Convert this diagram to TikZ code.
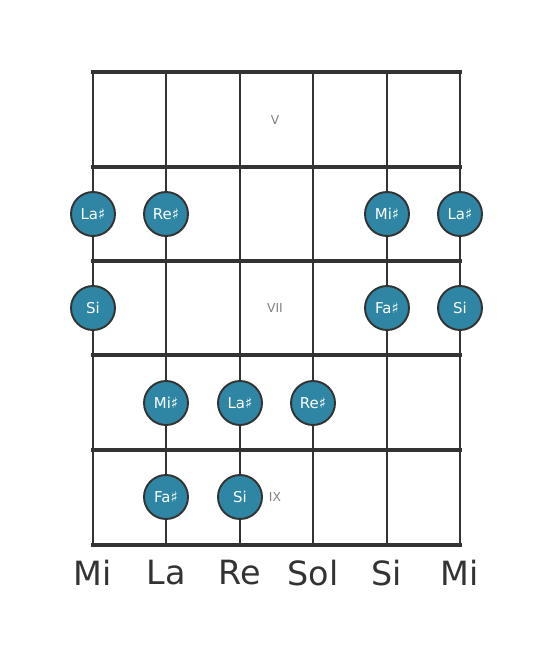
\documentclass[tikz,border=0pt]{standalone}
\usepackage{fontspec}
\setmainfont{DejaVu Sans}
\usepackage{tikz}
\definecolor{dotblue}{HTML}{2E86A4}
\definecolor{linegray}{HTML}{333333}

\tikzset{
    note/.style={circle, draw=linegray, line width=1.1pt, fill=dotblue, minimum size=0.88cm, inner sep=0pt, text=white, font=\fontsize{8.5}{10}\selectfont},
    fretnum/.style={text=gray, font=\fontsize{7}{8}\selectfont},
    stringname/.style={text=linegray, font=\fontsize{19}{22}\selectfont}
}

\begin{document}
\begin{tikzpicture}[x=0.02cm, y=-0.02cm]
    \useasboundingbox (0,0) rectangle (553,656);

    % strings
    \foreach \x/\name/\tag in {93/sMi/Mi, 166/sLa/La, 240/sRe/Re, 313/sSol/Sol, 387/sSi/Si, 460/sMii/Mi} {
        \draw[linegray, line width=1.7pt] (\x,72) -- (\x,545);
        \node[stringname] (\name) at (\x,573) {\tag};
    };

    % frets
    \foreach \y in {72,167,261,355,450,545}
        \draw[linegray, line width=2.8pt] (91,\y) -- (462,\y);

    % fret numbers
    \node[fretnum] (fV) at (275,120) {V};
    \node[fretnum] (fVII) at (275,308) {VII};
    \node[fretnum] (fIX) at (275,497) {IX};

    % notes
    \foreach \x/\y/\name/\tag in {
        93/214/nA/La♯,
        166/214/nB/Re♯,
        387/214/nC/Mi♯,
        460/214/nD/La♯,
        93/308/nE/Si,
        387/308/nF/Fa♯,
        460/308/nG/Si,
        166/403/nH/Mi♯,
        240/403/nI/La♯,
        313/403/nJ/Re♯,
        166/497/nK/Fa♯,
        240/497/nL/Si
    } {
        \node[note] (\name) at (\x,\y) {\tag};
    };

\end{tikzpicture}
\end{document}
